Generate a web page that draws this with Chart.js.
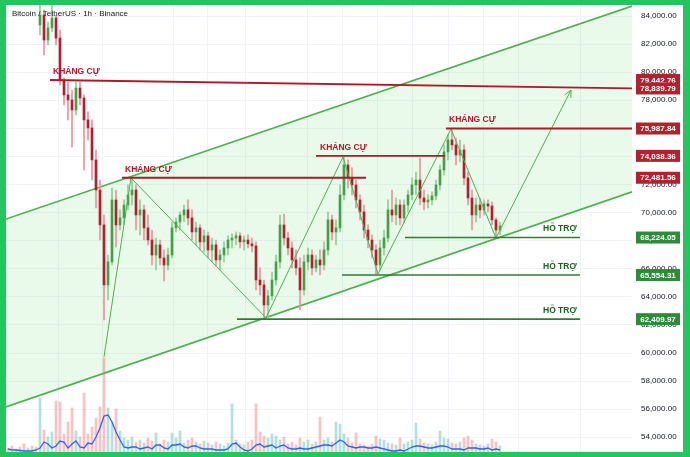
<!DOCTYPE html>
<html><head><meta charset="utf-8">
<script src="https://cdn.jsdelivr.net/npm/chart.js@4"></script>
<style>
html,body{margin:0;padding:0;width:690px;height:457px;background:#22c55e;overflow:hidden}
#wrap{position:absolute;left:6px;top:5px;width:677px;height:447px;background:#fff}
</style></head><body><div id="wrap"><canvas id="c"></canvas></div>
<script>
// ---- candle data (1h, index = candle number) ----
const N = 124;
const opens = [null,null,null,null,null,null,null,null,
 83360,84070,82290,83150,83860,82430,79440,78380,78020,77310,
 78870,78160,76600,76030,73750,71610,69120,64850,66490,70900,
 69120,69620,70540,71260,71610,69830,70190,68910,68050,66980,
 67700,66770,66270,66980,68910,69330,69830,70190,69620,68620,
 68910,67910,68340,67340,67700,66630,66980,67480,68050,68190,
 68340,67910,68050,67770,67630,65200,64850,63420,64070,65200,
 66490,69120,68190,67480,66630,66060,64490,66490,66980,66060,
 66630,66270,67340,69480,68620,68910,71260,73390,72470,71970,
 70900,70050,68760,68050,67340,66270,67480,68190,70190,69830,
 70540,69620,70540,71260,71970,72320,71040,70760,70900,71190,
 71970,73040,74320,75170,74820,74100,74460,72470,71040,69830,
 70540,70190,70620,70470,69480,68760];
const highs = [null,null,null,null,null,null,null,null,
 84780,84430,83570,84780,84070,83000,79590,79300,78730,79300,
 79300,78380,77170,76600,74460,72320,69830,66980,71750,71610,
 70190,70900,71970,72470,71970,70900,70540,69830,68760,68190,
 68050,67340,67480,69330,69620,70050,70540,70900,70190,69330,
 69120,68760,68620,68190,68050,67340,67910,68340,68480,68620,
 68550,68340,68410,68190,67910,66060,65200,64490,65770,66980,
 69830,69900,68620,67910,67340,66770,66980,67480,67340,66980,
 67340,67910,70050,69830,69480,71970,73960,73750,73180,72320,
 71260,70540,69120,68410,67700,68050,68760,70900,71610,71040,
 70900,70900,71610,72470,72890,73890,71610,71260,71470,72320,
 73390,74820,75530,75880,75310,75170,74820,72890,71610,71040,
 71040,70900,70900,70760,69620,69330];
const lows = [null,null,null,null,null,null,null,null,
 82650,81220,81940,82860,81940,79090,77660,76600,74670,76950,
 77660,73040,75170,72320,70330,68050,62360,63780,66270,67550,
 68760,69120,70190,70540,68760,68410,68050,67700,66270,65920,
 66270,65130,65920,66770,68620,68760,69330,69120,68050,67700,
 67340,67200,66770,66490,66200,65920,66490,66980,67480,67700,
 67480,67340,67480,67200,64490,64140,62570,62500,63780,64850,
 66060,67700,66980,66060,65560,63070,64140,65920,65560,65770,
 65560,65920,66980,68050,67700,68620,70900,71750,71260,70330,
 69480,68190,67480,66770,65630,65920,66980,67910,69330,69120,
 69120,69260,70050,70900,71260,70540,70190,70330,70540,70900,
 71610,72680,73750,74460,73390,73610,71970,70540,68760,69330,
 69620,69830,70050,69120,68190,68410];
const closes = [null,null,null,null,null,null,null,null,
 84070,82290,83150,83860,82430,79440,78380,78020,77310,78870,
 78160,76600,76030,73750,71610,69120,64850,66490,70900,69120,
 69620,70540,71260,71610,69830,70190,68910,68050,66980,67700,
 66770,66270,66980,68910,69330,69830,70190,69620,68620,68910,
 67910,68340,67340,67700,66630,66980,67480,68050,68190,68340,
 67910,68050,67770,67630,65200,64850,63420,64070,65200,66490,
 69120,68190,67480,66630,66060,64490,66490,66980,66060,66630,
 66270,67340,69480,68620,68910,71260,73390,72470,71970,70900,
 70050,68760,68050,67340,66270,67480,68190,70190,69830,70540,
 69620,70540,71260,71970,72320,71040,70760,70900,71190,71970,
 73040,74320,75170,74820,74100,74460,72470,71040,69830,70540,
 70190,70620,70470,69480,68760,69050];
const volume = [4,6,3,5,8,4,6,5,
 54,22,15,20,51,50,18,30,44,21,
 15,59,18,25,34,45,94,44,30,43,
 21,14,12,15,10,12,9,14,11,19,
 8,12,10,19,14,21,9,12,14,10,
 8,11,9,7,10,8,6,9,48,12,
 8,7,10,12,48,20,16,14,18,16,
 12,15,8,10,7,14,10,12,8,10,
 35,12,14,10,30,28,18,14,9,19,
 8,7,6,8,16,13,12,9,8,7,
 14,8,10,12,29,13,9,8,7,10,
 21,14,13,9,8,10,14,16,12,8,
 7,6,8,13,10,6];
const volumeMA = [3,2,2,1.5,1,1,1,2,
 4,10,8,4,6,11,10,4,8,11,
 5,4,9,8,15,24,36,37,30,20,
 12,5,4,5,5,3,4,5,3,7,
 7,4,3,7,7,8,5,4,6,6,
 4,3,3,3,2,2,2,3,8,9,
 5,2,1,3,7,8,5,6,7,4,
 6,7,4,3,3,4,3,3,4,5,
 6,7,7,6,9,12,10,6,5,4,
 5,5,4,4,5,4,3,2,1,1,
 2,1,3,5,6,6,5,4,4,5,
 6,6,5,3,3,3,2,4,4,4,
 3,3,4,2,3,2];

// ---- drawings (x = candle index, y = price) ----
const channelUpperX = [-0.5, 156], channelUpperY = [69540, 84710];
const channelLowerX = [-0.5, 156], channelLowerY = [56160, 71480];
const zigX = [24, 30.75, 64.5, 83.75, 92.5, 110.75, 122, 140.75];
const zigY = [59720, 72470, 62500, 73960, 65630, 75950, 68190, 78730];
const trendX = [10.5, 156], trendY = [79442.76, 78839.79];
const resLevels = [72481.56, 74038.36, 75987.84];
const resFrom = [28.5, 77, 109.5];
const resTo = [89.5, 109.25, 156];
const supLevels = [68224.05, 65554.31, 62409.97];
const supFrom = [99.25, 83.5, 57.25];
const supTo = [143, 143, 143];
const resLabelX = [11.25, 29.25, 78, 110.25];
const resLabelY = [79435, 72481.56, 74038.36, 75987.84];
const supLabelX = [133.75, 133.75, 133.75];
const resLabel = 'KHÁNG CỰ', supLabel = 'HỖ TRỢ';
const axisRed = [79442.76, 78839.79, 75987.84, 74038.36, 72481.56];
const axisGreen = [68224.05, 65554.31, 62409.97];
const yTicks = [54000,56000,58000,60000,62000,64000,66000,68000,70000,72000,74000,76000,78000,80000,82000,84000];
const gridX = [12.5, 23.75, 41.25, 50, 59.25, 74.75, 83.5, 92.25, 101, 110, 118.75, 127.5, 143];
const title = 'Bitcoin / TetherUS · 1h · Binance';

const FONT = '"Liberation Sans", Arial, sans-serif';
const fmt = new Intl.NumberFormat('en-US', {minimumFractionDigits: 2, maximumFractionDigits: 2});
const isUp = i => closes[i] != null && closes[i] >= opens[i];
const pts = (xs, ys) => xs.map((x, i) => ({x, y: ys[i]}));

const idx = [...Array(N).keys()];
const candleIdx = idx.filter(i => opens[i] != null);

const lineDs = (data, color, width, order) => ({
  type: 'line', data, borderColor: color, borderWidth: width, pointRadius: 0,
  fill: false, order, tension: 0
});

const datasets = [
  lineDs(pts(channelUpperX, channelUpperY), '#4caf50', 1.6, 30),
  Object.assign(lineDs(pts(channelLowerX, channelLowerY), '#4caf50', 1.6, 29),
    {fill: '-1', backgroundColor: 'rgba(60,205,60,0.11)'}),
  {type: 'bar', yAxisID: 'yv', order: 20, grouped: false, barThickness: 2,
   data: idx.map(i => ({x: i, y: volume[i]})),
   backgroundColor: c => isUp(c.raw.x) ? 'rgba(38,166,154,0.35)' : 'rgba(239,83,80,0.35)'},
  Object.assign(lineDs(idx.map(i => ({x: i, y: volumeMA[i]})), '#2962ff', 1.3, 19), {yAxisID: 'yv'}),
  {type: 'bar', order: 12, grouped: false, barThickness: 1,
   data: candleIdx.map(i => ({x: i, y: [lows[i], highs[i]]})),
   backgroundColor: c => isUp(c.raw.x) ? '#8fce92' : '#e8949a'},
  {type: 'bar', order: 11, grouped: false, barThickness: 2, minBarLength: 1,
   data: candleIdx.map(i => ({x: i, y: [opens[i], closes[i]]})),
   backgroundColor: c => isUp(c.raw.x) ? '#43a047' : '#b71c2c'},
  lineDs(pts(zigX, zigY), '#4caf50', 1, 8),
  lineDs(pts(trendX, trendY), '#b2182b', 1.8, 5),
];
resLevels.forEach((p, i) => datasets.push(lineDs([{x: resFrom[i], y: p}, {x: resTo[i], y: p}], '#b2182b', 1.8, 5)));
supLevels.forEach((p, i) => datasets.push(lineDs([{x: supFrom[i], y: p}, {x: supTo[i], y: p}], '#2e7d32', 1.6, 5)));

const overlay = {
  id: 'overlay',
  afterDatasetsDraw(chart) {
    const {ctx} = chart, xs = chart.scales.x, ys = chart.scales.y;
    ctx.save();
    const n = zigX.length;
    const x1 = xs.getPixelForValue(zigX[n-2]), y1 = ys.getPixelForValue(zigY[n-2]);
    const x2 = xs.getPixelForValue(zigX[n-1]), y2 = ys.getPixelForValue(zigY[n-1]);
    const a = Math.atan2(y2 - y1, x2 - x1);
    ctx.strokeStyle = '#4caf50'; ctx.lineWidth = 1;
    ctx.beginPath();
    [-0.45, 0.45].forEach(d => { ctx.moveTo(x2, y2); ctx.lineTo(x2 - 8 * Math.cos(a + d), y2 - 8 * Math.sin(a + d)); });
    ctx.stroke();
    ctx.font = 'bold 8.5px ' + FONT;
    ctx.textBaseline = 'middle'; ctx.textAlign = 'left';
    ctx.fillStyle = '#b2182b';
    resLabelX.forEach((x, i) => ctx.fillText(resLabel, xs.getPixelForValue(x), ys.getPixelForValue(resLabelY[i]) - 8.5));
    ctx.fillStyle = '#1b5e20';
    supLabelX.forEach((x, i) => ctx.fillText(supLabel, xs.getPixelForValue(x), ys.getPixelForValue(supLevels[i]) - 8.5));
    ctx.restore();
  },
  afterDraw(chart) {
    const {ctx} = chart, ys = chart.scales.y, area = chart.chartArea;
    ctx.save();
    ctx.font = 'bold 8px ' + FONT;
    ctx.textAlign = 'center'; ctx.textBaseline = 'middle';
    const box = (p, col) => {
      const y = ys.getPixelForValue(p);
      ctx.fillStyle = col; ctx.fillRect(area.right + 4, y - 6, 44, 12);
      ctx.fillStyle = '#fff'; ctx.fillText(fmt.format(p), area.right + 26, y + 0.5);
    };
    axisRed.forEach(p => box(p, '#b2222e'));
    axisGreen.forEach(p => box(p, '#2e8b3a'));
    ctx.font = '8px ' + FONT; ctx.textAlign = 'left'; ctx.fillStyle = '#131722';
    ctx.fillText(title, 6, 9);
    ctx.restore();
  }
};

new Chart(document.getElementById('c'), {
  type: 'bar',
  data: {datasets},
  options: {
    responsive: true, maintainAspectRatio: false, animation: false,
    layout: {padding: 0, autoPadding: false},
    plugins: {legend: {display: false}, tooltip: {enabled: false}, filler: {drawTime: 'beforeDatasetsDraw'}},
    scales: {
      x: {type: 'linear', min: -0.5, max: 156, offset: false,
          grid: {color: '#f0f3fa', drawTicks: false, offset: false}, border: {display: false},
          ticks: {display: false},
          afterBuildTicks: a => { a.ticks = gridX.map(v => ({value: v})); },
          afterFit: a => { a.height = 0; a.paddingLeft = 0; a.paddingRight = 0; a.paddingTop = 0; a.paddingBottom = 0; }},
      y: {position: 'right', min: 52950, max: 84784,
          grid: {color: '#f0f3fa', drawTicks: false}, border: {display: false},
          ticks: {padding: 9, color: '#131722', font: {size: 8, family: FONT},
                  callback: v => fmt.format(v)},
          afterBuildTicks: a => { a.ticks = yTicks.map(v => ({value: v})); },
          afterFit: a => { a.width = 51; a.paddingTop = 0; a.paddingBottom = 0; a.paddingLeft = 0; a.paddingRight = 0; }},
      yv: {display: false, min: 0, max: 447}
    }
  },
  plugins: [overlay]
});
</script></body></html>
